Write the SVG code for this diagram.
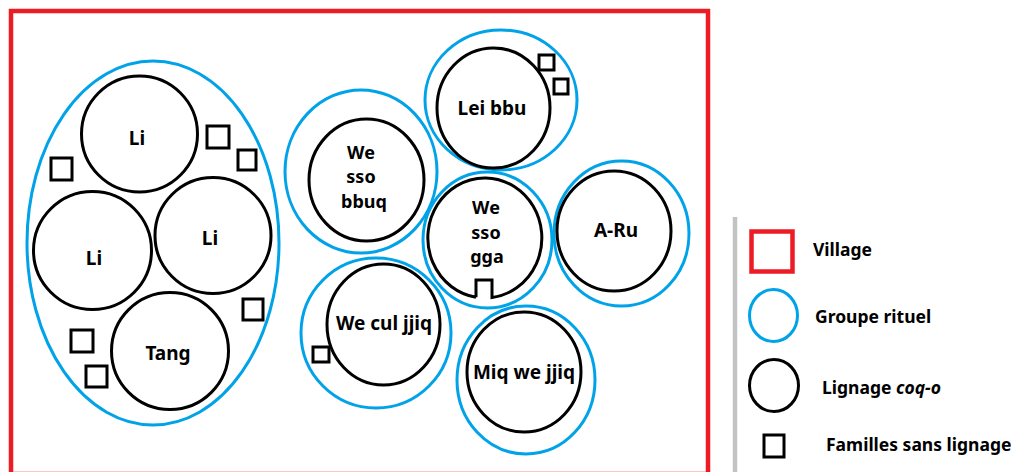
<svg xmlns="http://www.w3.org/2000/svg" width="1016" height="472" viewBox="0 0 1016 472">
<style>
.village{fill:none;stroke:#ed1c24;stroke-width:4.5}
.groupe{fill:none;stroke:#00a2e8;stroke-width:3}
.lignage{fill:none;stroke:#000;stroke-width:3}
.fam{fill:none;stroke:#000;stroke-width:3}
.lbl{font-family:"Noto Sans","Open Sans","Liberation Sans",sans-serif;font-weight:bold;font-size:19px;fill:#000;text-anchor:middle}
.stk{font-size:18px}
.leg{font-family:"Noto Sans","Open Sans","Liberation Sans",sans-serif;font-weight:bold;font-size:17.5px;fill:#000}
</style>
<rect width="1016" height="472" fill="#fff"/>
<rect id="village" class="village" x="11" y="11" width="697" height="463"/>

<g id="groupe-li-tang">
<ellipse class="groupe" cx="153" cy="243" rx="126" ry="182"/>
<g id="li-1"><circle class="lignage" cx="139.5" cy="134" r="58"/><text class="lbl" x="137" y="145">Li</text></g>
<g id="li-2"><circle class="lignage" cx="92.5" cy="250.5" r="59"/><text class="lbl" x="94" y="265">Li</text></g>
<g id="li-3"><circle class="lignage" cx="213" cy="235.5" r="58"/><text class="lbl" x="210" y="245">Li</text></g>
<g id="tang"><circle class="lignage" cx="170" cy="351" r="58.5"/><text class="lbl" x="168" y="360">Tang</text></g>
<rect class="fam" x="207" y="126" width="22" height="22"/>
<rect class="fam" x="238" y="150" width="18" height="20"/>
<rect class="fam" x="51" y="158" width="21" height="22"/>
<rect class="fam" x="243" y="299" width="20" height="21"/>
<rect class="fam" x="71" y="330" width="22" height="22"/>
<rect class="fam" x="86" y="366" width="21" height="21"/>
</g>

<g id="groupe-lei-bbu">
<ellipse class="groupe" cx="501" cy="100" rx="76" ry="70"/>
<ellipse class="lignage" cx="493.5" cy="108" rx="56.5" ry="60"/>
<text class="lbl" x="492" y="115">Lei bbu</text>
<rect class="fam" x="539" y="55" width="15" height="15"/>
<rect class="fam" x="554" y="79" width="14" height="15"/>
</g>

<g id="groupe-we-sso-bbuq">
<ellipse class="groupe" cx="361" cy="171.5" rx="76" ry="81.5"/>
<ellipse class="lignage" cx="366.5" cy="180" rx="57.5" ry="61"/>
<text class="lbl stk" x="361" y="158.5">We</text>
<text class="lbl stk" x="361" y="183">sso</text>
<text class="lbl stk" x="364" y="207.5">bbuq</text>
</g>

<g id="groupe-we-sso-gga">
<ellipse class="groupe" cx="487.5" cy="240" rx="64.5" ry="68"/>
<path class="lignage" d="M476,297.25 L476,280 L492,280 L492,297.5 A57,60 0 1 0 476,297.25"/>
<text class="lbl stk" x="486" y="214">We</text>
<text class="lbl stk" x="486" y="238.5">sso</text>
<text class="lbl stk" x="487" y="263">gga</text>
</g>

<g id="groupe-a-ru">
<ellipse class="groupe" cx="621.5" cy="233.5" rx="67.5" ry="72.5"/>
<ellipse class="lignage" cx="614" cy="231" rx="57" ry="60"/>
<text class="lbl" x="616" y="237">A-Ru</text>
</g>

<g id="groupe-we-cul-jjiq">
<ellipse class="groupe" cx="376" cy="333" rx="75" ry="75"/>
<ellipse class="lignage" cx="383.5" cy="324.5" rx="56.5" ry="60.5"/>
<text class="lbl" x="384" y="330">We cul jjiq</text>
<rect class="fam" x="313" y="347" width="16" height="15"/>
</g>

<g id="groupe-miq-we-jjiq">
<ellipse class="groupe" cx="526" cy="380" rx="69" ry="74"/>
<ellipse class="lignage" cx="524" cy="372" rx="57" ry="60"/>
<text class="lbl" x="524" y="379">Miq we jjiq</text>
</g>

<g id="legende">
<line x1="735" y1="217" x2="735" y2="472" stroke="#c3c3c3" stroke-width="4.5"/>
<rect class="village" x="751.5" y="231.5" width="41" height="40"/>
<text class="leg" x="813" y="256">Village</text>
<ellipse class="groupe" cx="773.5" cy="315.5" rx="24" ry="26"/>
<text class="leg" x="815" y="323">Groupe rituel</text>
<ellipse class="lignage" cx="774" cy="385.5" rx="24.5" ry="26"/>
<text class="leg" x="822" y="394">Lignage <tspan font-style="italic">coq-o</tspan></text>
<rect class="fam" x="764" y="435" width="20" height="22"/>
<text class="leg" x="826" y="451">Familles sans lignage</text>
</g>
</svg>
